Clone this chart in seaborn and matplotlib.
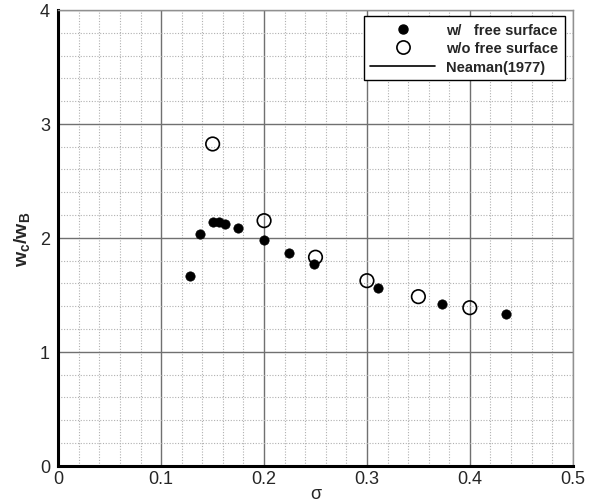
import matplotlib
matplotlib.use("Agg")
import matplotlib.pyplot as plt
from matplotlib.lines import Line2D
from matplotlib.ticker import MultipleLocator
import seaborn as sns
import pandas as pd

sigma_with = [0.128, 0.138, 0.150, 0.156, 0.162, 0.175, 0.200, 0.224, 0.249, 0.311, 0.373, 0.435]
ratio_with = [1.668, 2.037, 2.137, 2.137, 2.125, 2.087, 1.984, 1.867, 1.771, 1.563, 1.422, 1.332]
sigma_without = [0.150, 0.200, 0.250, 0.300, 0.350, 0.400]
ratio_without = [2.824, 2.151, 1.830, 1.624, 1.484, 1.387]
x_ticks = [0, 0.1, 0.2, 0.3, 0.4, 0.5]
x_ticklabels = ["0", "0.1", "0.2", "0.3", "0.4", "0.5"]
y_ticks = [0, 1, 2, 3, 4]
y_ticklabels = ["0", "1", "2", "3", "4"]
legend_labels = ["w/   free surface", "w/o free surface", "Neaman(1977)"]

sns.set_style("white")
plt.rcParams['font.family'] = ['Liberation Sans', 'DejaVu Sans']
plt.rcParams['mathtext.fontset'] = 'custom'
plt.rcParams['mathtext.bf'] = 'Liberation Sans:bold'
plt.rcParams['mathtext.rm'] = 'Liberation Sans'
plt.rcParams['mathtext.it'] = 'Liberation Sans:italic'

fig = plt.figure(figsize=(5.91, 5.02), dpi=100)
ax = fig.add_axes([0.0987, 0.0703, 0.8703, 0.9078])

df_w = pd.DataFrame({"s": sigma_with, "r": ratio_with})
df_wo = pd.DataFrame({"s": sigma_without, "r": ratio_without})
sns.scatterplot(data=df_w, x="s", y="r", ax=ax, color="black", s=45,
                edgecolor="black", linewidth=0.5, zorder=4)
sns.scatterplot(data=df_wo, x="s", y="r", ax=ax, facecolor="none", s=95,
                edgecolor="black", linewidth=1.2, zorder=5)

ax.set_xlim(0, 0.5)
ax.set_ylim(0, 4)
ax.set_xticks(x_ticks)
ax.set_xticklabels(x_ticklabels)
ax.set_yticks(y_ticks)
ax.set_yticklabels(y_ticklabels)
ax.xaxis.set_minor_locator(MultipleLocator(0.02))
ax.yaxis.set_minor_locator(MultipleLocator(0.2))

ax.grid(which="major", color="#707070", linewidth=1.0, linestyle="-", zorder=1)
ax.grid(which="minor", color="#b0b0b0", linewidth=0.8, linestyle=(0, (1, 1.5)), zorder=1)
ax.set_axisbelow(True)

for side in ["left", "bottom"]:
    ax.spines[side].set_color("black")
    ax.spines[side].set_linewidth(2.2)
for side in ["top", "right"]:
    ax.spines[side].set_color("#909090")
    ax.spines[side].set_linewidth(1.0)

ax.tick_params(which="major", direction="in", length=7, width=2, color="black",
               labelsize=13, top=False, right=False)
ax.tick_params(axis="x", which="major", pad=3)
ax.tick_params(axis="y", which="major", pad=6)
ax.tick_params(which="minor", direction="in", length=4, width=1, color="#909090",
               top=False, right=False)

ax.set_xlabel("σ", fontsize=13, labelpad=-1)
ax.set_ylabel(r"$\mathbf{w_c/w_B}$", fontsize=14, labelpad=6)

handles = [
    Line2D([], [], marker="o", linestyle="none", markerfacecolor="black",
           markeredgecolor="black", markersize=6.5),
    Line2D([], [], marker="o", linestyle="none", markerfacecolor="none",
           markeredgecolor="black", markeredgewidth=1.2, markersize=9.5),
    Line2D([], [], color="black", linewidth=1.2),
]
leg = ax.legend(handles, legend_labels, loc="upper right",
                bbox_to_anchor=(0.985, 0.986), borderaxespad=0, fancybox=False,
                edgecolor="black", framealpha=1, prop={"weight": "bold", "size": 10.5},
                handlelength=4.4, handletextpad=0.8, labelspacing=0.3,
                borderpad=0.45)
leg.get_frame().set_linewidth(1.0)

fig.savefig("out.png", dpi=100)
